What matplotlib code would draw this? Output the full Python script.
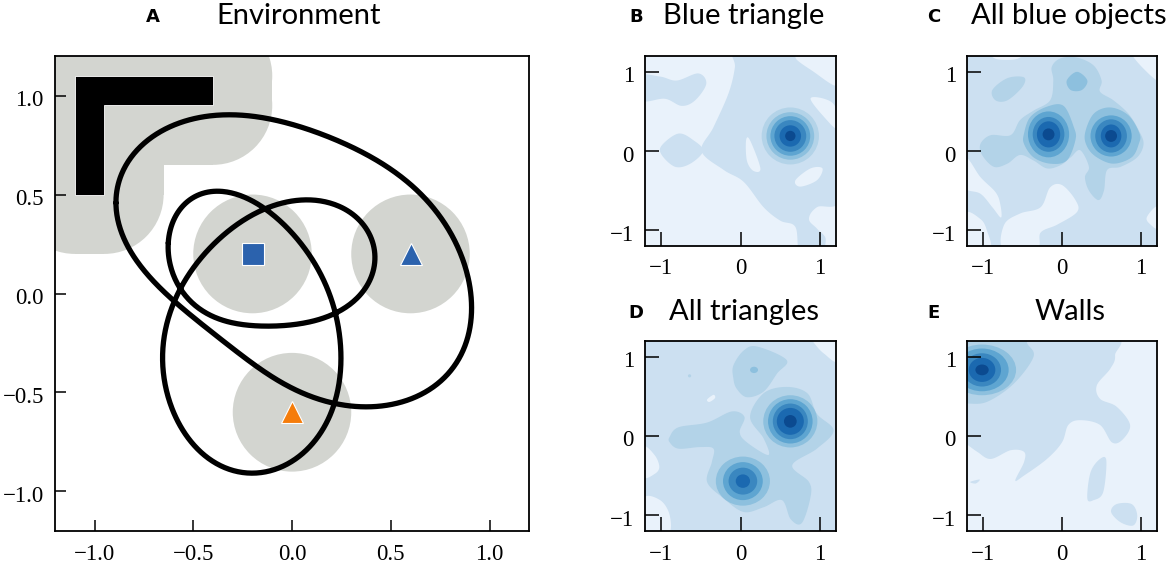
# Environment panel plus four decoded density maps
import numpy as np
import matplotlib
matplotlib.use("Agg")
import matplotlib.pyplot as plt
from matplotlib.patches import Circle, Ellipse, Rectangle, Polygon
from matplotlib.transforms import ScaledTranslation

W, H = 1170, 563

# contour band colours, lightest first
levelColors = ['#e9f2fb', '#cce0f1', '#b3d3e8', '#8dc0de', '#5ea5d1', '#3a87c0', '#1b69b0', '#0b4a90']

# environment
objectCenters = [(-0.2, 0.2), (0.6, 0.2), (0.0, -0.6)]
objectRadius = 0.3
objectMarkers = ['s', '^', '^']
objectColors = ['#2b62ad', '#2b62ad', '#f57c0a']
wallOutline = [(-1.1, 0.5), (-1.1, 1.1), (-0.4, 1.1), (-0.4, 0.95), (-0.95, 0.95), (-0.95, 0.5)]
wallBufferRects = [(-1.4, 0.5, -0.65, 1.4), (-1.4, 0.65, -0.4, 1.4), (-1.1, 0.2, -0.95, 0.5), (-0.4, 0.95, -0.1, 1.1)]
wallBufferCircles = [(-0.95, 0.5), (-1.1, 0.5), (-0.4, 0.95), (-0.4, 1.1)]

# the two closed black curves
bigLoop = [(-0.90, 0.45), (-0.80, 0.72), (-0.63, 0.83), (-0.30, 0.90), (0.04, 0.84), (0.38, 0.71),
           (0.63, 0.52), (0.80, 0.30), (0.90, 0.0), (0.91, -0.14), (0.85, -0.35), (0.71, -0.47),
           (0.55, -0.55), (0.34, -0.57), (0.11, -0.51), (-0.10, -0.43), (-0.28, -0.31), (-0.46, -0.14),
           (-0.71, 0.08)]
crossedLoop = [(-0.61, 0.25), (-0.59, 0.40), (-0.53, 0.48), (-0.38, 0.52), (-0.23, 0.48), (-0.14, 0.43),
               (0.0, 0.30), (0.13, 0.13), (0.21, -0.07), (0.25, -0.25), (0.23, -0.47), (0.14, -0.71),
               (0.03, -0.83), (-0.20, -0.91), (-0.38, -0.86), (-0.55, -0.69), (-0.64, -0.47),
               (-0.66, -0.30), (-0.65, -0.24), (-0.61, -0.10), (-0.565, 0.04), (-0.41, 0.23),
               (-0.14, 0.43), (0.08, 0.47), (0.29, 0.41), (0.43, 0.20), (0.36, 0.02), (0.21, -0.10),
               (-0.10, -0.17), (-0.31, -0.14), (-0.50, -0.07), (-0.565, 0.04)]

# density panels: (band, outline) regions, and (x, y, first band, x radii, y radii) peaks
blueTriangleRegions = [
    (1, [(-0.07, 1.3), (-0.07, 1.06), (-0.15, 0.73), (-0.34, 0.30), (-0.49, 0.0), (-0.21, -0.24), (0.04, -0.39),
         (0.29, -0.71), (0.50, -0.88), (0.69, -0.96), (0.75, -1.3), (1.0, -1.3), (1.07, -1.11), (0.96, -0.98),
         (0.86, -0.86), (0.96, -0.71), (1.3, -0.55), (1.35, 0.8), (1.17, 0.83), (0.92, 1.0), (0.71, 1.15), (0.6, 1.3)]),
    (1, [(-1.3, 0.95), (-1.01, 0.94), (-0.80, 0.89), (-0.53, 0.98), (-0.43, 0.85), (-0.57, 0.64), (-0.74, 0.57),
         (-0.95, 0.66), (-1.25, 0.64)]),
    (1, [(-0.99, 0.07), (-0.78, 0.22), (-0.59, 0.135), (-0.47, 0.0), (-0.63, -0.16), (-0.82, -0.2), (-0.99, -0.05)]),
    (0, [(0.88, 0.66), (1.05, 0.66), (1.19, 0.56), (1.22, 0.28), (1.05, 0.43)]),
    (0, [(0.07, 0.135), (0.12, 0.135), (0.25, -0.22), (0.16, -0.25), (0.08, -0.12)]),
    (0, [(0.69, -0.37), (0.88, -0.22), (1.03, -0.22), (0.96, -0.37), (0.75, -0.45)]),
]
blueTrianglePeaks = [(0.626, 0.19, 2, [0.36, 0.30, 0.25, 0.20, 0.135, 0.065], [0.36, 0.30, 0.25, 0.20, 0.135, 0.065])]

blueObjectsRegions = [
    (1, [(-1.4, -1.4), (1.4, -1.4), (1.4, 1.4), (-1.4, 1.4)]),
    (0, [(0.85, 1.3), (0.90, 1.19), (1.03, 1.04), (1.2, 0.89), (1.35, 0.85), (1.35, 1.3)]),
    (0, [(-0.9, 1.25), (-0.85, 1.17), (-0.7, 1.15), (-0.55, 1.17), (-0.5, 1.25)]),
    (0, [(-1.22, -0.08), (-1.03, -0.33), (-0.84, -0.52), (-0.78, -0.67), (-0.77, -0.84), (-0.88, -0.71),
         (-1.03, -0.54), (-1.22, -0.48), (-1.35, -0.3)]),
    (0, [(-1.22, -0.79), (-1.03, -0.86), (-0.95, -1.0), (-0.91, -1.24), (-1.22, -1.24)]),
    (0, [(-0.73, -0.93), (-0.53, -0.79), (-0.27, -0.71), (-0.15, -0.46), (0.0, -0.43), (0.17, -0.62), (0.19, -0.77),
         (-0.06, -0.93), (-0.27, -1.03), (-0.32, -1.24), (-0.74, -1.24)]),
    (0, [(1.22, -0.69), (1.07, -0.84), (1.13, -0.94), (1.22, -0.98), (1.35, -0.85)]),
    (2, [(-0.13, 1.06), (-0.02, 1.17), (0.19, 1.18), (0.40, 1.08), (0.50, 0.89), (0.48, 0.75), (0.65, 0.64),
         (0.84, 0.47), (0.97, 0.26), (1.03, 0.09), (0.95, -0.08), (0.74, -0.20), (0.57, -0.24), (0.53, -0.50),
         (0.46, -0.62), (0.34, -0.50), (0.29, -0.33), (0.34, -0.20), (0.23, 0.01), (0.11, -0.08), (-0.02, -0.18),
         (-0.19, -0.22), (-0.36, -0.12), (-0.53, -0.05), (-0.69, -0.16), (-0.86, -0.20), (-1.01, -0.05),
         (-1.03, 0.09), (-0.90, 0.20), (-0.65, 0.20), (-0.53, 0.39), (-0.36, 0.51), (-0.15, 0.64), (-0.11, 0.89)]),
    (2, [(-0.88, 0.77), (-0.69, 0.92), (-0.48, 0.93), (-0.50, 0.81), (-0.69, 0.64), (-0.84, 0.64)]),
    (3, [(0.06, 0.89), (0.19, 1.0), (0.32, 0.89), (0.25, 0.77), (0.11, 0.77)]),
    (3, [(-0.48, 0.22), (-0.40, 0.43), (-0.19, 0.56), (0.02, 0.57), (0.15, 0.30), (0.17, 0.14), (0.06, -0.12),
         (-0.15, -0.16), (-0.36, -0.08), (-0.48, 0.09)]),
    (3, [(0.29, 0.22), (0.40, 0.47), (0.61, 0.55), (0.84, 0.45), (0.98, 0.22), (0.97, 0.09), (0.88, -0.08),
         (0.65, -0.16), (0.44, -0.08), (0.32, 0.05)]),
]
blueObjectsPeaks = [(-0.17, 0.21, 4, [0.26, 0.20, 0.147, 0.075], [0.29, 0.22, 0.165, 0.075]),
                    (0.62, 0.19, 4, [0.26, 0.20, 0.13, 0.075], [0.26, 0.21, 0.145, 0.075])]

trianglesRegions = [
    (1, [(-1.4, -1.4), (1.4, -1.4), (1.4, 1.4), (-1.4, 1.4)]),
    (0, [(0.92, 1.18), (1.05, 1.04), (1.24, 0.94), (1.35, 1.3), (0.85, 1.3)]),
    (0, [(-1.22, -0.14), (-1.08, -0.24), (-1.02, -0.39), (-1.08, -0.48), (-1.22, -0.51)]),
    (0, [(-1.22, -0.79), (-1.01, -0.81), (-0.89, -1.0), (-0.91, -1.24), (-1.22, -1.24)]),
    (0, [(-0.42, 0.46), (-0.34, 0.52), (-0.32, 0.48), (-0.39, 0.43)]),
    (2, [(-0.09, 0.89), (0.04, 1.08), (0.21, 1.13), (0.58, 0.96), (0.46, 0.79), (0.29, 0.56), (0.08, 0.49),
         (-0.05, 0.60), (-0.09, 0.73)]),
    (2, [(-0.89, -0.01), (-0.78, 0.11), (-0.42, 0.17), (-0.11, 0.31), (0.05, 0.24), (-0.01, 0.05), (0.08, -0.08),
         (0.35, -0.24), (0.29, -0.03), (0.12, 0.24), (0.29, 0.54), (0.58, 0.62), (0.84, 0.54), (0.96, 0.28),
         (1.17, 0.07), (0.96, -0.16), (0.65, -0.37), (0.86, -0.58), (0.88, -0.77), (0.77, -1.10), (0.63, -1.05),
         (0.52, -0.81), (0.29, -0.90), (0.04, -0.96), (-0.21, -0.79), (-0.42, -0.58), (-0.36, -0.33), (-0.34, -0.16),
         (-0.51, -0.14), (-0.78, -0.16), (-0.89, -0.08)]),
]
trianglesPeaks = [(0.626, 0.185, 3, [0.34, 0.28, 0.22, 0.17, 0.08], [0.33, 0.28, 0.225, 0.17, 0.08]),
                  (0.03, -0.57, 3, [0.34, 0.25, 0.18, 0.09], [0.31, 0.24, 0.17, 0.085]),
                  (0.17, 0.835, 3, [0.05], [0.04]),
                  (-0.64, 0.76, 2, [0.02], [0.02])]

wallsRegions = [
    (1, [(0.57, 1.3), (0.67, 1.02), (0.61, 0.85), (0.44, 0.64), (0.48, 0.47), (0.69, 0.37), (0.86, 0.14), (0.76, -0.05),
         (0.63, -0.08), (0.48, 0.14), (0.23, 0.20), (0.08, 0.14), (0.0, -0.08), (-0.19, -0.29), (-0.48, -0.50),
         (-0.59, -0.56), (-0.48, -0.33), (-0.48, -0.20), (-0.65, -0.18), (-0.90, -0.29), (-1.07, -0.20), (-1.24, -0.08),
         (-1.4, 0.0), (-1.4, 1.4)]),
    (1, [(-1.16, -0.58), (-1.04, -0.55), (-1.09, -0.60)]),
    (1, [(0.32, -0.79), (0.36, -0.46), (0.48, -0.29), (0.56, -0.31), (0.52, -0.71), (0.40, -0.81)]),
    (1, [(0.62, -0.96), (0.69, -0.86), (0.88, -0.86), (0.95, -1.0), (0.90, -1.13), (0.74, -1.09)]),
    (2, [(-1.22, 0.41), (-0.95, 0.43), (-0.61, 0.66), (-0.36, 1.0), (-0.44, 1.17), (-0.48, 1.3), (-1.35, 1.3), (-1.35, 0.4)]),
]
wallsPeaks = [(-1.01, 0.835, 3, [0.43, 0.336, 0.24, 0.168, 0.084], [0.32, 0.27, 0.21, 0.152, 0.068])]

panelTitles = ['Blue triangle', 'All blue objects', 'All triangles', 'Walls']
panelLetters = ['B', 'C', 'D', 'E']
panelRegions = [blueTriangleRegions, blueObjectsRegions, trianglesRegions, wallsRegions]
panelPeaks = [blueTrianglePeaks, blueObjectsPeaks, trianglesPeaks, wallsPeaks]
panelBoxes = [(645, 56, 836, 246), (967, 56, 1157, 246), (645, 341, 836, 531), (967, 341, 1157, 531)]
titleSpots = [(744, 16), (1069, 16), (744, 312), (1070, 312)]
letterSpots = [(636, 17), (934, 17), (636, 313), (933, 313)]

plt.rcParams['font.family'] = 'Liberation Serif'
plt.rcParams['font.size'] = 16.5
titleFont = 'Lato'
titleSize = 21
letterFont = 'DejaVu Sans'
letterSize = 13


def smoothClosed(points, steps=14):
    # closed Catmull-Rom through the outline points
    p = np.array(points, dtype=float)
    out = []
    n = len(p)
    for i in range(n):
        p0, p1, p2, p3 = p[i - 1], p[i], p[(i + 1) % n], p[(i + 2) % n]
        for t in np.linspace(0, 1, steps, endpoint=False):
            out.append(0.5 * (2 * p1 + (p2 - p0) * t + (2 * p0 - 5 * p1 + 4 * p2 - p3) * t ** 2
                              + (3 * p1 - p0 - 3 * p2 + p3) * t ** 3))
    return np.array(out)


def fitLoop(points, harmonics, samples=800):
    # least squares Fourier fit along the arc length, irons out reading errors
    p = np.array(points, dtype=float)
    steps = np.linalg.norm(np.roll(p, -1, axis=0) - p, axis=1)
    s = np.concatenate(([0], np.cumsum(steps)[:-1])) / steps.sum()

    def basis(u):
        cols = [np.ones_like(u)]
        for k in range(1, harmonics + 1):
            cols += [np.cos(2 * np.pi * k * u), np.sin(2 * np.pi * k * u)]
        return np.column_stack(cols)

    coef = np.linalg.lstsq(basis(s), p, rcond=None)[0]
    return basis(np.linspace(0, 1, samples)) @ coef


def axesFromPixels(fig, box):
    left, top, right, bottom = box
    return fig.add_axes([left / W, 1 - bottom / H, (right - left) / W, (bottom - top) / H])


def styleAxes(ax, ticks, tickLength):
    ax.set_xlim(-1.2, 1.2)
    ax.set_ylim(-1.2, 1.2)
    ax.set_xticks(ticks)
    ax.set_yticks(ticks)
    ax.tick_params(direction='in', length=tickLength, width=1.1)
    ax.tick_params(axis='x', pad=9)
    ax.tick_params(axis='y', pad=8)
    ax.set_axisbelow(False)
    # y labels sit a little under their ticks in the original
    nudge = ScaledTranslation(0, -1.8 / 72, ax.figure.dpi_scale_trans)
    for label in ax.get_yticklabels():
        label.set_transform(label.get_transform() + nudge)
    for spine in ax.spines.values():
        spine.set_linewidth(1.3)
        spine.set_zorder(10)


fig = plt.figure(figsize=(W / 100, H / 100), dpi=100)

# panel A
ax = axesFromPixels(fig, (55, 56, 529, 531))
grey = '#d3d5d0'
for cx, cy in objectCenters:
    ax.add_patch(Circle((cx, cy), objectRadius, fc=grey, ec='none'))
for x0, y0, x1, y1 in wallBufferRects:
    ax.add_patch(Rectangle((x0, y0), x1 - x0, y1 - y0, fc=grey, ec='none'))
for cx, cy in wallBufferCircles:
    ax.add_patch(Circle((cx, cy), objectRadius, fc=grey, ec='none'))
ax.add_patch(Polygon(wallOutline, closed=True, fc='black', ec='white', lw=0.6))
for (cx, cy), marker, color in zip(objectCenters, objectMarkers, objectColors):
    ax.plot(cx, cy, marker=marker, ms=16 if marker == 's' else 15.5, color=color, mec='white', mew=0.8, ls='none', zorder=3)
for loop, harmonics in ((bigLoop, 4), (crossedLoop, 7)):
    pts = fitLoop(loop, harmonics)
    ax.plot(pts[:, 0], pts[:, 1], color='black', lw=3.8, solid_capstyle='round', zorder=4)
styleAxes(ax, [-1.0, -0.5, 0.0, 0.5, 1.0], 8)
fig.text(299 / W, 1 - 16 / H, 'Environment', family=titleFont, size=titleSize, ha='center', va='center')
fig.text(153 / W, 1 - 17 / H, 'A', family=letterFont, weight='bold', size=letterSize, ha='center', va='center')

# panels B to E
for box, regions, peaks, title, letter, titleSpot, letterSpot in zip(
        panelBoxes, panelRegions, panelPeaks, panelTitles, panelLetters, titleSpots, letterSpots):
    ax = axesFromPixels(fig, box)
    ax.set_facecolor(levelColors[0])
    for band, outline in regions:
        pts = smoothClosed(outline)
        ax.fill(pts[:, 0], pts[:, 1], fc=levelColors[band], ec='none')
    for cx, cy, first, xRadii, yRadii in peaks:
        for i, (rx, ry) in enumerate(zip(xRadii, yRadii)):
            ax.add_patch(Ellipse((cx, cy), 2 * rx, 2 * ry, fc=levelColors[first + i], ec='none', zorder=1.5))
    styleAxes(ax, [-1, 0, 1], 10)
    fig.text(titleSpot[0] / W, 1 - titleSpot[1] / H, title, family=titleFont, size=titleSize, ha='center', va='center')
    fig.text(letterSpot[0] / W, 1 - letterSpot[1] / H, letter, family=letterFont, weight='bold', size=letterSize, ha='center', va='center')

fig.savefig('out.png', dpi=100)
